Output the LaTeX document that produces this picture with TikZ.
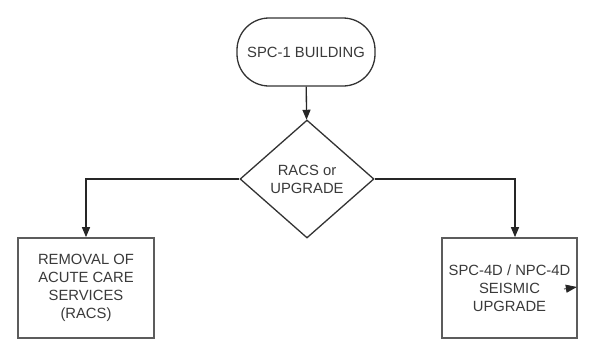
\documentclass[tikz,border=0pt]{standalone}
\usepackage{fontspec}
\setmainfont{Liberation Sans}
\usetikzlibrary{shapes.geometric,arrows.meta}
\definecolor{txt}{HTML}{3A3A3A}
\definecolor{edge}{HTML}{333333}
\tikzset{
  base/.style={draw=edge, line width=1.3pt, fill=white, inner sep=0pt, align=center,
    text=txt, font=\fontsize{14.8}{17.8}\selectfont},
  terminal/.style={base, rectangle, rounded corners=32pt, minimum width=138pt, minimum height=68pt},
  decision/.style={base, diamond, minimum width=134pt, minimum height=118pt},
  process/.style={base, rectangle, line width=1.7pt, draw=edge!80!white, minimum width=136pt, minimum height=100pt},
  conn/.style={draw=black!85, line width=1.3pt, -{Triangle[length=10pt,width=8pt]}}
}
\begin{document}
\begin{tikzpicture}[x=1pt,y=-1pt]
\useasboundingbox (0,0) rectangle (596,341);
\node[terminal] (start) at (306,52) {SPC-1 BUILDING};
\node[decision] (dec) at (307,179) {RACS or\\UPGRADE};
\node[process] (racs) at (86,288) {REMOVAL OF\\ACUTE CARE\\SERVICES\\(RACS)};
\node[process, minimum width=135pt] (upg) at (509.5,288) {SPC-4D / NPC-4D\\SEISMIC\\UPGRADE};
\coordinate (tip) at (564,289);
\draw[conn] (start) -- (dec);
\draw[conn] (dec.west) -| (racs.north);
\draw[conn] (dec.east) -| ([xshift=5.5pt]upg.north);
\draw[draw=black!85, line width=0.8pt, -{Triangle[length=11pt,width=8pt]}] (tip) -- ([xshift=-1pt,yshift=1pt]upg.east);
\end{tikzpicture}
\end{document}
